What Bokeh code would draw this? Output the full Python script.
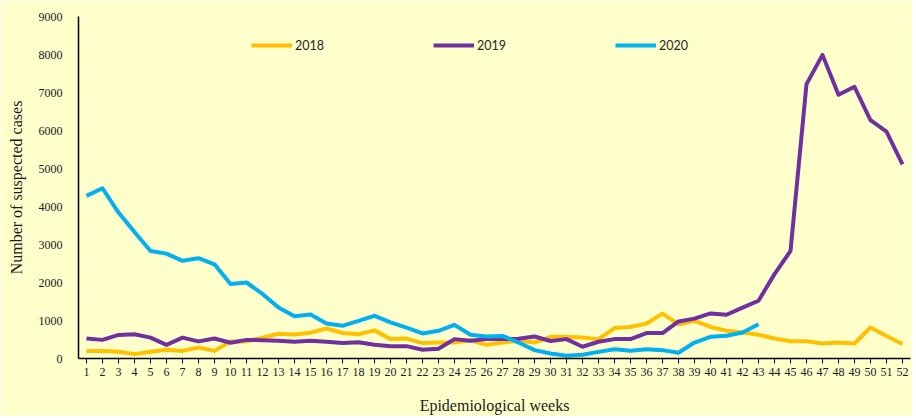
from bokeh.plotting import figure
from bokeh.models import Legend, LegendItem, FixedTicker, Range1d
from bokeh.embed import file_html
from bokeh.resources import INLINE

weeks = list(range(1, 53))
cases_2018 = [200, 200, 180, 115, 180, 230, 200, 290, 200, 450, 450, 550, 650, 630, 680, 790, 670, 640, 740,
              510, 525, 405, 420, 420, 480, 360, 420, 465, 420, 570, 570, 550, 510, 800, 830, 920, 1180, 900,
              990, 830, 730, 685, 625, 525, 455, 455, 395, 420, 395, 815, 590, 380]
cases_2019 = [525, 490, 620, 640, 550, 360, 550, 450, 525, 415, 490, 480, 465, 440, 465, 440, 405, 430, 360,
              325, 325, 230, 255, 510, 465, 510, 510, 520, 580, 460, 510, 310, 440, 510, 510, 670, 670, 975,
              1050, 1185, 1150, 1340, 1520, 2220, 2830, 7220, 7990, 6940, 7150, 6270, 5970, 5110]
weeks_2020 = list(range(1, 44))
cases_2020 = [4280, 4480, 3840, 3330, 2830, 2760, 2570, 2640, 2480, 1960, 2000, 1700, 1340, 1110, 1160, 920,
              860, 990, 1120, 950, 815, 660, 730, 885, 625, 580, 595, 420, 220, 130, 70, 100, 175, 245,
              205, 245, 220, 150, 420, 570, 600, 685, 900]
y_ticks = [0, 1000, 2000, 3000, 4000, 5000, 6000, 7000, 8000, 9000]

BG = "#FFFFCC"
p = figure(width=912, height=416, output_backend="svg", toolbar_location=None,
           x_range=Range1d(0.5, 52.5), y_range=Range1d(0, 9000),
           min_border_left=78, min_border_right=2, min_border_top=16, min_border_bottom=58,
           background_fill_color=BG, border_fill_color=BG, outline_line_color=None)
p.xgrid.visible = False
p.ygrid.visible = False

r18 = p.line(weeks, cases_2018, line_color="#FFC000", line_width=4, line_join="round")
r19 = p.line(weeks, cases_2019, line_color="#7030A0", line_width=4, line_join="round")
r20 = p.line(weeks_2020, cases_2020, line_color="#00B0F0", line_width=4, line_join="round")

serif = "Liberation Serif"
p.xaxis.ticker = FixedTicker(ticks=weeks)
p.yaxis.ticker = FixedTicker(ticks=y_ticks)
for ax in (p.xaxis[0], p.yaxis[0]):
    ax.axis_line_color = "black"
    ax.axis_line_width = 1.5
    ax.major_label_text_font = serif
    ax.major_label_text_font_size = "12px"
    ax.major_label_text_color = "#1a1a1a"
    ax.minor_tick_line_color = None
    ax.axis_label_text_font = serif
    ax.axis_label_text_font_size = "16px"
    ax.axis_label_text_font_style = "normal"
    ax.axis_label_text_color = "#1a1a1a"
p.xaxis.major_tick_line_color = "black"
p.xaxis.major_tick_in = 0
p.xaxis.major_tick_out = 5
p.xaxis.major_label_standoff = 4
p.yaxis.major_tick_line_color = None
p.yaxis.major_label_standoff = 10
p.xaxis.axis_label = "Epidemiological weeks"
p.xaxis.axis_label_standoff = 18
p.yaxis.axis_label = "Number of suspected cases"
p.yaxis.axis_label_standoff = 11

legend = Legend(items=[LegendItem(label="2018", renderers=[r18]),
                       LegendItem(label="2019", renderers=[r19]),
                       LegendItem(label="2020", renderers=[r20])],
                orientation="horizontal", location=(173, 303),
                glyph_width=41, glyph_height=20, label_height=20, label_standoff=3,
                spacing=109, padding=0, margin=0,
                border_line_color=None, background_fill_alpha=0,
                label_text_font="Lato", label_text_font_size="12.5px", label_text_color="#262626")
p.add_layout(legend)

html = file_html(p, INLINE)
html = html.replace("<body>", '<body style="background-color:#FFFFCC;">', 1)
open("out.html", "w").write(html)
